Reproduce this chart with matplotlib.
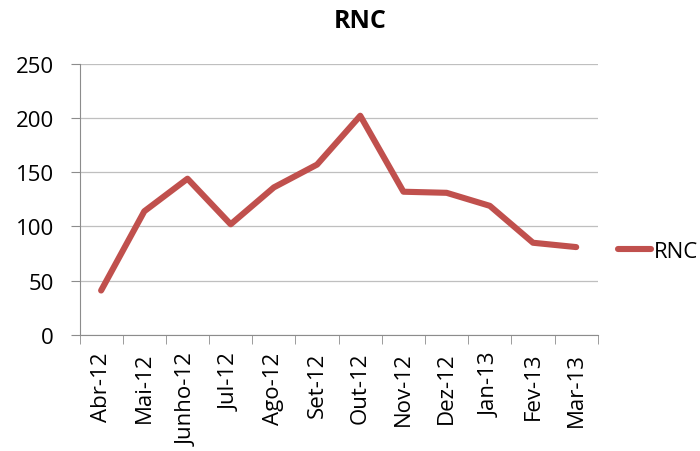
import matplotlib.pyplot as plt
import numpy as np

# data
months = ['Abr-12', 'Mai-12', 'Junho-12', 'Jul-12', 'Ago-12', 'Set-12',
          'Out-12', 'Nov-12', 'Dez-12', 'Jan-13', 'Fev-13', 'Mar-13']
rnc = [41, 114, 144, 102, 136, 157, 202, 132, 131, 119, 85, 81]

plt.rcParams['font.family'] = ['Open Sans', 'DejaVu Sans']

fig = plt.figure(figsize=(7, 4.52), dpi=100)
ax = fig.add_axes([0.1136, 0.2566, 0.7404, 0.6004])

x = np.arange(len(months))
ax.plot(x, rnc, color='#C0504D', linewidth=4.4, solid_capstyle='round',
        solid_joinstyle='round', label='RNC', zorder=3)

ax.set_xlim(-0.5, len(months) - 0.5)
ax.set_ylim(0, 250)
ax.set_yticks(range(0, 251, 50))
ax.grid(axis='y', color='#BFBFBF', linewidth=0.9)
ax.set_axisbelow(True)

# category labels centred, tick marks between categories
ax.set_xticks(x)
ax.set_xticklabels(months, rotation=90, fontsize=16)
ax.tick_params(axis='x', length=0, pad=12)
ax.set_xticks(np.arange(-0.5, len(months)), minor=True)
ax.tick_params(axis='x', which='minor', length=6.5, color='#8C8C8C')
ax.tick_params(axis='y', labelsize=16, length=6.5, color='#8C8C8C', pad=12)

for s in ['top', 'right']:
    ax.spines[s].set_visible(False)
for s in ['left', 'bottom']:
    ax.spines[s].set_color('#8C8C8C')

fig.text(0.514, 0.938, 'RNC', fontsize=18, fontweight='bold',
         ha='center', va='baseline')

leg = fig.legend(loc='center left', bbox_to_anchor=(618 / 700, 1 - 252 / 452),
                 bbox_transform=fig.transFigure, frameon=False, fontsize=16,
                 handlelength=1.5, handletextpad=0.1, borderpad=0, borderaxespad=0)
for h in leg.get_lines():
    h.set_solid_capstyle('round')

fig.savefig('out.png', dpi=100)
